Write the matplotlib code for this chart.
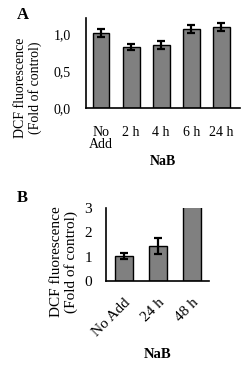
import matplotlib

matplotlib.use("Agg")
import matplotlib.pyplot as plt
import numpy as np

plt.rcParams["font.family"] = ["Liberation Serif", "DejaVu Serif"]

# panel A: NaB time course
a_labels = ["No\nAdd", "2 h", "4 h", "6 h", "24 h"]
a_values = [1.01, 0.82, 0.85, 1.06, 1.09]
a_errors = [0.05, 0.045, 0.05, 0.055, 0.055]
a_ticks = [0.0, 0.5, 1.0]
a_ticklabels = ["0,0", "0,5", "1,0"]

# panel B: longer exposure (48 h bar runs off the top of the axis)
b_labels = ["No Add", "24 h", "48 h"]
b_values = [1.02, 1.42, 3.4]
b_errors = [0.11, 0.33, 0.0]
b_ticks = [0, 1, 2, 3]

BAR_COLOR = "#808080"
YLABEL = "DCF fluorescence\n(Fold of control)"


def style(ax, ypad, xpad):
    for spine in ("top", "right"):
        ax.spines[spine].set_visible(False)
    for spine in ("left", "bottom"):
        ax.spines[spine].set_linewidth(1.2)
    ax.tick_params(length=0)
    ax.tick_params(axis="y", pad=ypad)
    ax.tick_params(axis="x", pad=xpad)


fig = plt.figure(figsize=(2.46, 3.68), dpi=100)

ax_a = fig.add_axes([0.3496, 0.7073, 0.626, 0.243])
x = np.arange(len(a_values))
ax_a.bar(x, a_values, 0.56, color=BAR_COLOR, edgecolor="black", linewidth=1.0,
         yerr=a_errors, capsize=3, error_kw={"elinewidth": 1.6, "capthick": 1.6})
ax_a.set_xlim(-0.5, 4.62)
ax_a.set_ylim(0, 1.21)
ax_a.set_yticks(a_ticks)
ax_a.set_yticklabels(a_ticklabels, fontsize=10)
ax_a.set_xticks(x)
ax_a.set_xticklabels(a_labels, fontsize=10, linespacing=0.95)
style(ax_a, ypad=11, xpad=13)
ax_a.set_ylabel(YLABEL, fontsize=10, linespacing=1.1)
ax_a.yaxis.set_label_coords(-0.286, 0.22)
ax_a.text(0.5, -0.6, "NaB", transform=ax_a.transAxes, ha="center", va="center",
          fontsize=10, fontweight="bold")
fig.text(0.068, 0.958, "A", fontsize=12, fontweight="bold", ha="left", va="center")

ax_b = fig.add_axes([0.431, 0.2365, 0.419, 0.199])
xb = np.arange(len(b_values))
ax_b.bar(xb, b_values, 0.53, color=BAR_COLOR, edgecolor="black", linewidth=1.0,
         yerr=b_errors, capsize=3, error_kw={"elinewidth": 1.6, "capthick": 1.6})
ax_b.set_xlim(-0.53, 2.5)
ax_b.set_ylim(0, 3)
ax_b.set_yticks(b_ticks)
ax_b.set_yticklabels([str(t) for t in b_ticks], fontsize=11)
ax_b.set_xticks(xb)
ax_b.set_xticklabels(b_labels, fontsize=11, rotation=45, ha="right",
                     rotation_mode="anchor")
style(ax_b, ypad=10, xpad=11)
ax_b.set_ylabel(YLABEL, fontsize=11, linespacing=1.1)
ax_b.yaxis.set_label_coords(-0.27, 0.26)
ax_b.text(0.5, -1.01, "NaB", transform=ax_b.transAxes, ha="center", va="center",
          fontsize=10.5, fontweight="bold")
fig.text(0.068, 0.462, "B", fontsize=12, fontweight="bold", ha="left", va="center")

fig.savefig("out.png", dpi=100)
